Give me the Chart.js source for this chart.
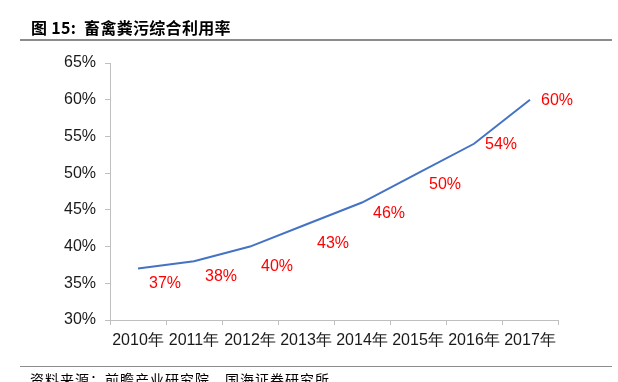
<!DOCTYPE html>
<html><head><meta charset="utf-8">
<script src="https://cdn.jsdelivr.net/npm/chart.js@4/dist/chart.umd.min.js"></script>
<style>
html,body{margin:0;padding:0;background:#fff;width:618px;height:382px;overflow:hidden;}
#wrap{position:absolute;left:0;top:0;width:618px;height:382px;}
#title{position:absolute;left:31px;top:15px;font:bold 16px "Noto Sans CJK SC";color:#000;white-space:nowrap;letter-spacing:0.3px;}
#line1{position:absolute;left:20px;top:39px;width:592px;height:2px;background:#8c8c8c;}
#line2{position:absolute;left:20px;top:366px;width:592px;height:1px;background:#8c8c8c;}
#src{position:absolute;left:30px;top:369px;font:14px "Noto Sans CJK SC";color:#000;white-space:nowrap;letter-spacing:1px;}
canvas{position:absolute;left:0;top:0;}
</style></head><body>
<div id="wrap">
<canvas id="c" width="618" height="382"></canvas>
<div id="title">图 15:&nbsp; 畜禽粪污综合利用率</div>
<div id="line1"></div>
<div id="line2"></div>
<div id="src">资料来源：前瞻产业研究院，国海证券研究所</div>
</div>
<script>
const categories = ["2010年","2011年","2012年","2013年","2014年","2015年","2016年","2017年"];
const utilization = [37, 38, 40, 43, 46, 50, 54, 60];
const valueLabels = ["37%","38%","40%","43%","46%","50%","54%","60%"];
const labelDy = [15, 15, 20, 19, 11, 11, 1, 1];

const labelPlugin = {
  id: 'vlabels',
  afterDatasetsDraw(chart) {
    const ctx = chart.ctx;
    const meta = chart.getDatasetMeta(0);
    ctx.save();
    ctx.font = '16px "Liberation Sans", Arial';
    ctx.fillStyle = '#ff0000';
    ctx.textAlign = 'center';
    ctx.textBaseline = 'middle';
    meta.data.forEach((pt, i) => {
      ctx.fillText(valueLabels[i], pt.x + 27, pt.y + labelDy[i]);
    });
    ctx.restore();
  }
};

new Chart(document.getElementById('c'), {
  type: 'line',
  data: {
    labels: categories,
    datasets: [{
      data: utilization,
      borderColor: '#4472C4',
      borderWidth: 2,
      pointRadius: 0,
      tension: 0,
      fill: false
    }]
  },
  options: {
    responsive: false,
    animation: false,
    layout: { padding: { left: 0, right: 60, top: 63, bottom: 0 } },
    plugins: { legend: { display: false }, tooltip: { enabled: false } },
    scales: {
      x: {
        offset: true,
        grid: { offset: true, drawOnChartArea: false, drawTicks: true, tickLength: 5, color: '#bfbfbf' },
        border: { color: '#bfbfbf', width: 1 },
        ticks: { color: '#1a1a1a', font: { size: 16, family: '"Liberation Sans", Arial' }, padding: 6, maxRotation: 0, autoSkip: false },
        afterFit(s) { s.height = 62; }
      },
      y: {
        min: 30, max: 65,
        grid: { drawOnChartArea: false, drawTicks: true, tickLength: 5, color: '#bfbfbf' },
        border: { color: '#bfbfbf', width: 1 },
        ticks: { stepSize: 5, color: '#1a1a1a', font: { size: 16, family: '"Liberation Sans", Arial' }, padding: 9, callback: v => v + '%' },
        afterFit(s) { s.width = 110; }
      }
    }
  },
  plugins: [labelPlugin]
});
</script>
</body></html>
